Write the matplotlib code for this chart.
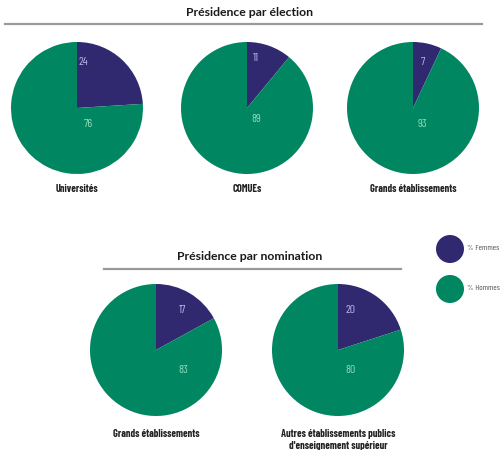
import matplotlib
matplotlib.use("Agg")
import matplotlib.pyplot as plt
from matplotlib.lines import Line2D

W, H = 502, 450

# données
election_names = ["Universités", "COMUEs", "Grands établissements"]
election_femmes = [24, 11, 7]
election_hommes = [76, 89, 93]

nomination_names = ["Grands établissements",
                    "Autres établissements publics\nd'enseignement supérieur"]
nomination_femmes = [17, 20]
nomination_hommes = [83, 80]

legend_labels = ["% Femmes", "% Hommes"]

purple = "#30296f"
green = "#008661"
purple_txt = "#b9b4e6"
green_txt = "#8fd9ba"

narrow = ["Barlow Condensed", "DejaVu Sans"]
title_font = ["Lato", "DejaVu Sans"]

fig = plt.figure(figsize=(W / 100, H / 100), dpi=100)


def px_axes(cx, cy, r):
    return fig.add_axes([(cx - r) / W, (H - cy - r) / H, 2 * r / W, 2 * r / H])


def draw_pie(cx, cy, r, f, h, name, lab_f, lab_h, name_y):
    ax = px_axes(cx, cy, r)
    ax.pie([f, h], colors=[purple, green], startangle=90, counterclock=False,
           radius=1, wedgeprops=dict(linewidth=0))
    ax.set_xlim(-1, 1)
    ax.set_ylim(-1, 1)
    ax.set_aspect("auto")
    ax.axis("off")
    ax.text(lab_f[0], lab_f[1], str(f), color=purple_txt, fontsize=8.5,
            family=narrow, ha="center", va="center")
    ax.text(lab_h[0], lab_h[1], str(h), color=green_txt, fontsize=8.5,
            family=narrow, ha="center", va="center")
    fig.text(cx / W, 1 - name_y / H, name, ha="center", va="top",
             fontsize=7.5, fontweight="bold", family=narrow, color="#222222",
             linespacing=1.3)


# élection
top_cx = [77, 247, 413]
top_lab_f = [(0.09, 0.70), (0.14, 0.76), (0.15, 0.70)]
top_lab_h = [(0.17, -0.24), (0.14, -0.17), (0.15, -0.24)]
for i in range(3):
    draw_pie(top_cx[i], 108, 66, election_femmes[i], election_hommes[i],
             election_names[i], top_lab_f[i], top_lab_h[i], 184)

# nomination
bot_cx = [156, 338]
bot_lab_f = [(0.41, 0.60), (0.19, 0.60)]
bot_lab_h = [(0.41, -0.30), (0.19, -0.30)]
for i in range(2):
    draw_pie(bot_cx[i], 350, 66, nomination_femmes[i], nomination_hommes[i],
             nomination_names[i], bot_lab_f[i], bot_lab_h[i], 429)

# titres
fig.text(250 / W, 1 - 13 / H, "Présidence par élection", ha="center", va="center",
         fontsize=8.8, fontweight="bold", family=title_font, color="#1a1a1a")
fig.add_artist(Line2D([5 / W, 482 / W], [1 - 24 / H, 1 - 24 / H],
                      color="#9a9a9a", lw=1.6))
fig.text(250 / W, 1 - 256 / H, "Présidence par nomination", ha="center", va="center",
         fontsize=8.8, fontweight="bold", family=title_font, color="#1a1a1a")
fig.add_artist(Line2D([104 / W, 401 / W], [1 - 269 / H, 1 - 269 / H],
                      color="#9a9a9a", lw=1.6))

# légende
for lab, col, y in zip(legend_labels, [purple, green], [249, 289]):
    lax = px_axes(450, y, 14)
    lax.pie([1], colors=[col], wedgeprops=dict(linewidth=0))
    lax.set_xlim(-1, 1)
    lax.set_ylim(-1, 1)
    lax.set_aspect("auto")
    lax.axis("off")
    fig.text(467 / W, 1 - y / H, lab, ha="left", va="center", fontsize=6,
             family=narrow, color="#555555")

fig.savefig("out.png", dpi=100)
